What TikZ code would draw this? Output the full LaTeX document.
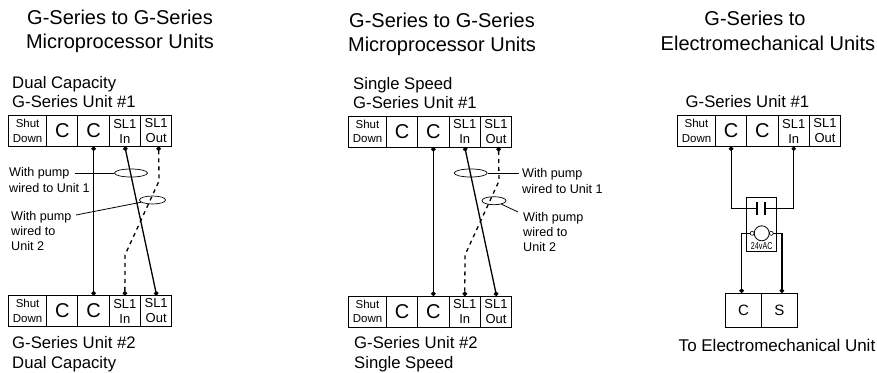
\documentclass[tikz,border=0pt]{standalone}
\usepackage{fontspec}
\setmainfont{Liberation Sans}
\usetikzlibrary{shapes.geometric,arrows.meta,positioning}

\tikzset{
  cell/.style={draw,line width=0.9pt,outer sep=0pt,inner sep=0pt,align=center,minimum height=31pt},
  shutcell/.style={cell,minimum width=38pt,font=\fontsize{11.5}{14.5}\selectfont},
  ccell/.style={cell,minimum width=31.3pt,font=\fontsize{20}{20}\selectfont},
  slcell/.style={cell,minimum width=31.3pt,font=\fontsize{13}{15}\selectfont},
  heading/.style={align=center,inner sep=0pt,font=\fontsize{20}{24}\selectfont},
  unitlabel/.style={align=left,anchor=west,inner sep=0pt,font=\fontsize{16.7}{19.5}\selectfont},
  pumplabel/.style={align=left,anchor=west,inner sep=0pt,font=\fontsize{12.6}{15.3}\selectfont},
  pumpring/.style={draw,ellipse,line width=0.7pt,inner sep=0pt,minimum height=8pt},
  wire/.style={line width=1.3pt,{Circle[length=4.5pt]}-{Circle[length=4.5pt]}},
  dashwire/.style={wire,dashed,dash pattern=on 4pt off 4pt},
  leader/.style={line width=0.8pt},
  elwire/.style={line width=1.1pt},
  elbox/.style={draw,line width=1pt,inner sep=0pt,outer sep=0pt}
}

% row of five terminals, #2 = west edge of the row, #3 = vertical middle
\newcommand{\unitstrip}[3]{
  \node[shutcell,anchor=west] (#1s) at (#2,#3) {Shut\\Down};
  \node[ccell,right=0pt of #1s] (#1a) {C};
  \node[ccell,right=0pt of #1a] (#1b) {C};
  \node[slcell,right=0pt of #1b] (#1i) {SL1\\In};
  \node[slcell,right=0pt of #1i] (#1o) {SL1\\Out};
}

\begin{document}
\begin{tikzpicture}[x=1pt,y=-1pt]
\useasboundingbox (0,0) rectangle (877,372);

% left
\node[heading] (ltitle) at (120,31) {G-Series to G-Series\\Microprocessor Units};
\node[unitlabel] (ltoplabel) at (12,92) {Dual Capacity\\G-Series Unit \#1};
\unitstrip{lt}{8.6}{131}
\unitstrip{lb}{8.6}{311}
\node[unitlabel] (lbotlabel) at (12,354) {G-Series Unit \#2\\Dual Capacity};
\draw[wire] (ltb.south) -- (lbb.north);
\draw[wire] (lti.south) -- ([xshift=0.5pt]lbo.north);
\coordinate (lbend1) at (159,181);
\coordinate (lbend2) at (125,255);
\draw[dashwire] ([xshift=2.5pt]lto.south) -- (lbend1) -- (lbend2) -- (lbi.north);
\node[pumplabel] (lpump1) at (9,180) {With pump\\wired to Unit 1};
\node[pumplabel] (lpump2) at (11,231) {With pump\\wired to\\Unit 2};
\node[pumpring,minimum width=33pt] (lring1) at (131,173) {};
\node[pumpring,minimum width=26pt] (lring2) at (152.5,200) {};
\coordinate (llead1) at (75,173);
\coordinate (llead2) at (76,215);
\draw[leader] (llead1) -- (lring1);
\draw[leader] (llead2) -- (lring2);

% middle
\node[heading] (mtitle) at (442,34) {G-Series to G-Series\\Microprocessor Units};
\node[unitlabel] (mtoplabel) at (353,93) {Single Speed\\G-Series Unit \#1};
\unitstrip{mt}{348.5}{131.5}
\unitstrip{mb}{348.5}{311.5}
\node[unitlabel] (mbotlabel) at (354,354) {G-Series Unit \#2\\Single Speed};
\draw[wire] (mtb.south) -- (mbb.north);
\draw[wire] (mti.south) -- ([xshift=0.5pt]mbo.north);
\coordinate (mbend1) at (499,181);
\coordinate (mbend2) at (465,255);
\draw[dashwire] ([xshift=2.5pt]mto.south) -- (mbend1) -- (mbend2) -- (mbi.north);
\node[pumplabel] (mpump1) at (522,181) {With pump\\wired to Unit 1};
\node[pumplabel] (mpump2) at (523,232) {With pump\\wired to\\Unit 2};
\node[pumpring,minimum width=33pt] (mring1) at (470.7,173) {};
\node[pumpring,minimum width=24pt] (mring2) at (494,200.7) {};
\coordinate (mlead1) at (519,173);
\coordinate (mlead2) at (518,212);
\draw[leader] (mring1) -- (mlead1);
\draw[leader] (mring2) -- (mlead2);

% right
\node[heading] (rtitlea) at (755,18) {G-Series to};
\node[heading] (rtitleb) at (768,43) {Electromechanical Units};
\node[unitlabel] (rtoplabel) at (685.5,102) {G-Series Unit \#1};
\unitstrip{rt}{677.5}{131}
\node[elbox,minimum width=30pt,minimum height=54pt] (relay) at (761.7,224.7) {};
\node[inner sep=0pt,minimum width=8pt,minimum height=13pt,outer sep=0pt] (cap) at (761,208.5) {};
\draw[elwire] (cap.north west) -- (cap.south west);
\draw[elwire] (cap.north east) -- (cap.south east);
\node[draw,circle,line width=0.8pt,minimum size=15pt,inner sep=0pt,outer sep=0pt] (coil) at (761.7,233.3) {};
\node[draw,circle,line width=0.6pt,minimum size=4pt,inner sep=0pt,outer sep=0pt,left=0pt of coil] (coilw) {};
\node[draw,circle,line width=0.6pt,minimum size=4pt,inner sep=0pt,outer sep=0pt,right=0pt of coil] (coile) {};
\node[inner sep=0pt,font=\fontsize{10}{10}\selectfont,xscale=0.72] (volt) at (761.7,246.5) {24vAC};
\node[elbox,minimum width=36.4pt,minimum height=34pt,font=\fontsize{15}{15}\selectfont] (ec) at (743.5,310) {C};
\node[elbox,minimum width=35.3pt,minimum height=34pt,font=\fontsize{15}{15}\selectfont,right=0pt of ec] (es) {S};
\node[inner sep=0pt,font=\fontsize{17}{17}\selectfont] (elabel) at (777,345.5) {To Electromechanical Unit};
\draw[elwire,{Circle[length=4.5pt]}-] (rta.south) |- (cap.west);
\draw[elwire,{Circle[length=4.5pt]}-] (rti.south) |- (cap.east);
\draw[elwire,-{Circle[length=4.5pt]}] (coilw.west) -| ([xshift=-1.8pt]ec.north);
\draw[elwire,-{Circle[length=4.5pt]}] (coile.east) -| ([xshift=2.6pt]es.north);
\end{tikzpicture}
\end{document}
